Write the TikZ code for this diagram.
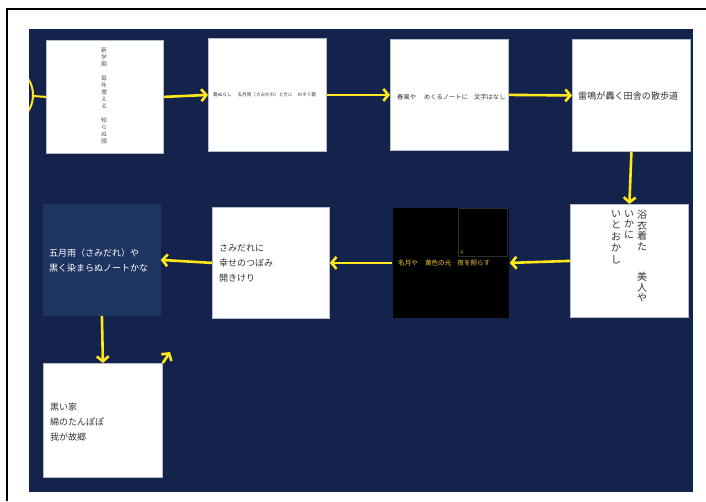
\documentclass[tikz,border=0pt]{standalone}
\usepackage{fontspec}
\newfontfamily\jp{Noto Sans CJK JP}
\usetikzlibrary{arrows.meta}
\definecolor{navy}{HTML}{13234B}
\definecolor{navylight}{HTML}{1E3561}
\definecolor{yel}{HTML}{FFE81A}
\definecolor{gold}{HTML}{EFC72A}
\definecolor{txt}{HTML}{333333}
\definecolor{cardedge}{HTML}{B4BCCB}
\definecolor{faint}{HTML}{2E2E2E}
\tikzset{
  card/.style={draw=cardedge, line width=0.8pt, fill=white, anchor=north west, inner sep=0pt},
  flow/.style={draw=yel, line width=2.6pt, -{Straight Barb[length=5pt,width=12pt]}},
  jptext/.style={inner sep=0pt, text=txt, align=left, anchor=west},
}
\begin{document}
\begin{tikzpicture}[x=1pt,y=-1pt]
\useasboundingbox (0,0) rectangle (706,501);
\fill[white] (0,0) rectangle (706,501);
\draw[black, line width=1.2pt] (7,501) -- (7,9) -- (706,9);
\fill[navy] (29,29) rectangle (693,492);
% left partial circle
\begin{scope}
  \clip (29,29) rectangle (693,492);
  \draw[yel, line width=2pt] (3,95) circle[radius=30];
\end{scope}
\coordinate (cin) at (33,96);
% boxes
\node[card, minimum width=117pt, minimum height=113pt] (b1) at (46,40) {};
\node[card, minimum width=118pt, minimum height=113pt] (b2) at (208,38) {};
\node[card, minimum width=118pt, minimum height=111pt] (b3) at (390,39) {};
\node[card, minimum width=118pt, minimum height=112pt] (b4) at (572,39) {};
\node[card, minimum width=118pt, minimum height=113pt] (b5) at (570,204) {};
\node[card, draw=navy, fill=black, minimum width=117pt, minimum height=111pt] (b6) at (392,207) {};
\node[card, minimum width=117pt, minimum height=111pt] (b7) at (212,207) {};
\node[card, draw=navylight, fill=navylight, minimum width=117pt, minimum height=111pt] (b8) at (43,204) {};
\node[card, minimum width=119pt, minimum height=114pt] (b9) at (43,363) {};
% inner faint rectangle in black box
\node[draw=faint, line width=0.5pt, anchor=north west, inner sep=0pt, minimum width=49pt, minimum height=48pt] (b6in) at (458,208) {};
\node[inner sep=0pt, text=gold, font=\jp\fontsize{4}{4}\selectfont] (b6mark) at (462,252) {よ};
% texts
\node[inner sep=0pt, align=center, text=black!65, font=\jp\fontsize{5.8}{7}\selectfont] (t1) at (104,96)
  {新\\学\\期\\[7pt]毎\\年\\増\\え\\る\\[7pt]知\\ら\\ぬ\\顔};
\node[jptext, font=\jp\fontsize{4.6}{5}\selectfont] (t2) at (213,95)
  {霜ぬらし\hspace{6pt}五月雨（さみだれ）どきに\hspace{5pt}のぞく霜};
\node[jptext, font=\jp\fontsize{6.3}{7}\selectfont] (t3) at (397,97)
  {春風や\hspace{8pt}めくるノートに\hspace{6pt}文字はなし};
\node[jptext, font=\jp\fontsize{9.1}{10}\selectfont] (t4) at (578,96) {雷鳴が轟く田舎の散歩道};
\node[inner sep=0pt, anchor=north, align=center, text=txt, font=\jp\fontsize{10}{10.5}\selectfont] (t5a) at (642,210)
  {浴\\衣\\着\\た\\[20pt]美\\人\\や};
\node[inner sep=0pt, anchor=north, align=center, text=txt, font=\jp\fontsize{10}{10.5}\selectfont] (t5b) at (629,210)
  {い\\か\\に};
\node[inner sep=0pt, anchor=north, align=center, text=txt, font=\jp\fontsize{10}{11.5}\selectfont] (t5c) at (616,210)
  {い\\と\\お\\か\\し};
\node[jptext, text=gold, font=\jp\fontsize{6.6}{7}\selectfont] (t6) at (398,263)
  {名月や\hspace{7pt}黄色の光\hspace{6pt}夜を照らす};
\node[jptext, font=\jp\fontsize{9}{15}\selectfont] (t7) at (219,263) {さみだれに\\幸せのつぼみ\\開きけり};
\node[jptext, text=white, font=\jp\fontsize{9}{15}\selectfont] (t8) at (49,261) {五月雨（さみだれ）や\\黒く染まらぬノートかな};
\node[jptext, font=\jp\fontsize{9}{15}\selectfont] (t9) at (50,422) {黒い家\\綿のたんぽぽ\\我が故郷};
% connectors
\draw[yel, line width=2pt] (cin) -- (b1.west);
\draw[flow] (b1.east) -- (b2.west);
\draw[flow] (b2.east) -- (b3.west);
\draw[flow] (b3.east) -- (b4.west);
\draw[flow] (b4.south) -- (b5.north);
\draw[flow] (b5.west) -- (b6.east);
\draw[flow] (b6.west) -- (b7.east);
\draw[flow] (b7.west) -- (b8.east);
\draw[flow] (b8.south) -- (b9.north);
\coordinate (free) at (170,352);
\draw[flow] (b9.north east) -- (free);
\end{tikzpicture}
\end{document}
